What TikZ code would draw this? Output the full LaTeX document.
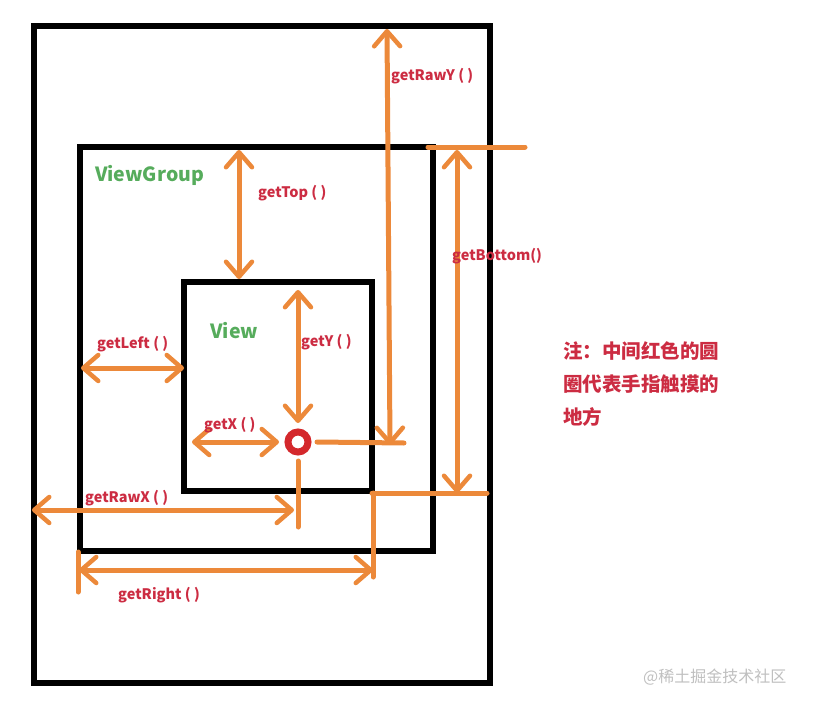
\documentclass[tikz,border=0pt]{standalone}
\usepackage{fontspec}
\setmainfont{Noto Sans CJK SC}
\usetikzlibrary{arrows.meta}

\definecolor{lineorange}{RGB}{236,137,58}
\definecolor{labelred}{RGB}{204,44,66}
\definecolor{titlegreen}{RGB}{86,172,92}
\definecolor{touchred}{RGB}{212,40,44}

\begin{document}
\begin{tikzpicture}[x=1pt, y=-1pt,
    box/.style={draw, line width=6pt, inner sep=0pt},
    arrow/.style={draw=lineorange, line width=5pt, line cap=round},
    label/.style={text=labelred, anchor=west, inner sep=0pt, font=\bfseries\fontsize{14.5}{16}\selectfont},
    title/.style={text=titlegreen, anchor=west, inner sep=0pt, font=\bfseries\fontsize{19.5}{21}\selectfont},
    touchpoint/.style={draw=touchred, circle, line width=7pt, minimum size=20pt, inner sep=0pt, outer sep=9pt},
    >={Straight Barb[length=15pt, width=26pt, line width=4.5pt, round]}]
    \useasboundingbox (0,0) rectangle (816,706);

    % screen, ViewGroup and View
    \node[box, minimum width=456pt, minimum height=657pt] (screen) at (262,354.5) {};
    \node[box, minimum width=353pt, minimum height=404pt] (group) at (256.5,349) {};
    \node[box, minimum width=188.5pt, minimum height=209pt] (view) at (277.75,386.5) {};
    \node[title] (groupname) at (95,175) {ViewGroup};
    \node[title] (viewname) at (210,331) {View};

    % the touch point
    \node[touchpoint] (touch) at (298,442) {};

    % ends of the connectors
    \coordinate (rawyTop) at (387,29);
    \coordinate (rawyEnd) at (390,445);
    \coordinate (rawyRight) at (404,443);
    \coordinate (topUp) at (239,150);
    \coordinate (topDown) at (239,279);
    \coordinate (bottomLineL) at (428,147);
    \coordinate (bottomLineR) at (525,147);
    \coordinate (bottomUp) at (457,150);
    \coordinate (bottomDown) at (457,493);
    \coordinate (bottomBaseL) at (372,493);
    \coordinate (bottomBaseR) at (487,493);
    \coordinate (rightTop) at (373,493);
    \coordinate (rightBase) at (373,577);
    \coordinate (rightEnd) at (373,570);
    \coordinate (rightStart) at (79,570);
    \coordinate (rightTickUp) at (78,552);
    \coordinate (rightTickDown) at (78,592);
    \coordinate (rawxStart) at (32,510);
    \coordinate (rawxEnd) at (294,510);
    \coordinate (rawxTick) at (298,527);
    \coordinate (xStart) at (192,442);
    \coordinate (yStart) at (298,290);
    \coordinate (leftStart) at (81,368);
    \coordinate (leftEnd) at (184,368);

    \draw[arrow, <->] (rawyTop) -- (rawyEnd);
    \draw[arrow] (touch.east) -- (rawyRight);
    \draw[arrow, <->] (topUp) -- (topDown);
    \draw[arrow] (bottomLineL) -- (bottomLineR);
    \draw[arrow, <->] (bottomUp) -- (bottomDown);
    \draw[arrow] (bottomBaseL) -- (bottomBaseR);
    \draw[arrow] (rightTop) -- (rightBase);
    \draw[arrow, <->] (rightStart) -- (rightEnd);
    \draw[arrow] (rightTickUp) -- (rightTickDown);
    \draw[arrow, <->] (rawxStart) -- (rawxEnd);
    \draw[arrow] (touch.south) -- (rawxTick);
    \draw[arrow, <->] (xStart) -- (touch.west);
    \draw[arrow, <->] (yStart) -- (touch.north);
    \draw[arrow, <->] (leftStart) -- (leftEnd);

    % labels
    \node[label] (rawylabel) at (391,76) {getRawY ( )};
    \node[label] (toplabel) at (258,193) {getTop ( )};
    \node[label] (bottomlabel) at (452,256) {getBottom()};
    \node[label] (leftlabel) at (97,344) {getLeft ( )};
    \node[label] (ylabel) at (301,342) {getY ( )};
    \node[label] (xlabel) at (204,425) {getX ( )};
    \node[label] (rawxlabel) at (85,498) {getRawX ( )};
    \node[label] (rightlabel) at (118,595) {getRight ( )};

    % note
    \node[text=labelred, anchor=west, inner sep=0pt, align=left,
          font=\bfseries\fontsize{19.5}{33}\selectfont] (note) at (563,384)
          {注：中间红色的圆\\圈代表手指触摸的\\地方};
    \node[text=black!25, anchor=west, inner sep=0pt, font=\fontsize{16}{18}\selectfont] (mark) at (643,677) {@稀土掘金技术社区};
\end{tikzpicture}
\end{document}
